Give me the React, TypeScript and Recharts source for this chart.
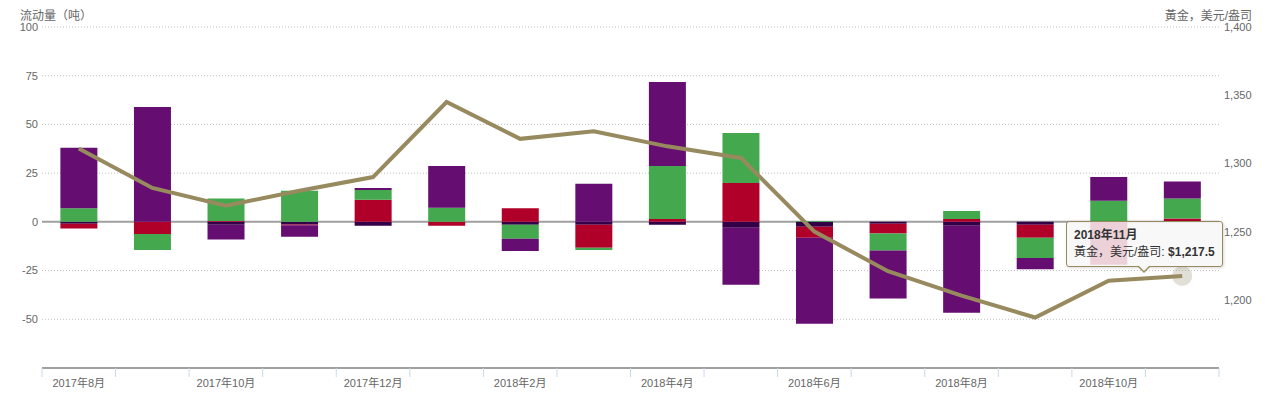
import React from 'react';
import {
  ComposedChart, Bar, Line, XAxis, YAxis, CartesianGrid, Tooltip
} from 'recharts';

const months = [
  '2017年8月', '2017年9月', '2017年10月', '2017年11月', '2017年12月', '2018年1月',
  '2018年2月', '2018年3月', '2018年4月', '2018年5月', '2018年6月', '2018年7月',
  '2018年8月', '2018年9月', '2018年10月', '2018年11月'
];

// 流动量（吨）by region
const northAmerica = [31, 59, -7.5, -5.9, 1, 21.5, -6.2, 19.5, 43.1, -29.3, -44.1, -24.6, -44.7, -5.8, 12.2, 8.7];
const europe = [7, -8.3, 11.5, 16, 5.1, 7.2, -7.2, -1.1, 27.2, 25.6, 0.5, -8.7, 4.1, -10.3, 10.8, 10.3];
const asia = [-2.4, -6.2, 0.5, -0.4, 11.3, -2, 7, -11.8, 1.5, 20, -5.7, -5, 1.5, -6.7, -22, 1.7];
const other = [-1, 0, -1.5, -1.4, -2, 0, -1.5, -1.5, -1.5, -3, -2.5, -1, -2, -1.5, 0, 0];

// 黃金，美元/盎司
const gold = [1311, 1282, 1269, 1280, 1290, 1345, 1318, 1323.5, 1312.5, 1304, 1250, 1221, 1203, 1187, 1214, 1217.5];

const leftTicks = [-50, -25, 0, 25, 50, 75, 100];
const rightTicks = [1200, 1250, 1300, 1350, 1400];

const data = months.map((m, i) => ({
  month: m,
  other: other[i],
  asia: asia[i],
  europe: europe[i],
  northAmerica: northAmerica[i],
  gold: gold[i],
}));

const WIDTH = 1277;
const HEIGHT = 399;
const LEFT_W = 42;
const RIGHT_W = 58;
const TOP = 27;
const X_H = 31;
const BAND = (WIDTH - LEFT_W - RIGHT_W) / months.length;

const FONT = '"Liberation Sans", Arial, "Noto Sans CJK SC", sans-serif';
const TEXT = '#666666';
const LINE_COLOR = '#968a5e';

const MonthTick = (props: any) => {
  const { x, y, payload, index } = props;
  const i = payload?.index ?? index;
  return (
    <g>
      <line x1={x - BAND / 2} x2={x - BAND / 2} y1={y} y2={y + 9} stroke="#ccd6eb" />
      {i === months.length - 1 && (
        <line x1={x + BAND / 2} x2={x + BAND / 2} y1={y} y2={y + 9} stroke="#ccd6eb" />
      )}
      {i % 2 === 0 && (
        <text x={x} y={y + 15} textAnchor="middle" dominantBaseline="central"
          fontSize={11} fill={TEXT} fontFamily={FONT}>
          {payload.value}
        </text>
      )}
    </g>
  );
};

const GoldTooltip = ({ active, payload, label }: any) => {
  if (!active || !payload) return null;
  const p = payload.find((d: any) => d.dataKey === 'gold');
  if (!p) return null;
  return (
    <div style={{
      position: 'relative',
      background: 'rgba(247,247,247,0.85)',
      border: `1px solid ${LINE_COLOR}`,
      borderRadius: 3,
      padding: '5px 7px',
      fontFamily: FONT,
      fontSize: 12,
      lineHeight: '17px',
      color: '#333',
      whiteSpace: 'nowrap',
      boxShadow: '1px 1px 3px rgba(0,0,0,0.15)',
    }}>
      <div style={{ fontWeight: 'bold' }}>{label}</div>
      <div>黃金，美元/盎司: <b>${Number(p.value).toLocaleString('en-US', { minimumFractionDigits: 1 })}</b></div>
      <div style={{
        position: 'absolute', left: '50%', bottom: -7, marginLeft: -7,
        width: 0, height: 0, borderLeft: '7px solid transparent', borderRight: '7px solid transparent',
        borderTop: `7px solid ${LINE_COLOR}`,
      }} />
      <div style={{
        position: 'absolute', left: '50%', bottom: -5, marginLeft: -6,
        width: 0, height: 0, borderLeft: '6px solid transparent', borderRight: '6px solid transparent',
        borderTop: '6px solid #f7f7f7',
      }} />
    </div>
  );
};

export default function App() {
  return (
    <div style={{ position: 'absolute', left: 0, top: 0, width: WIDTH, height: HEIGHT, background: '#fff' }}>
      <div style={{ position: 'absolute', left: 20, top: 6, fontSize: 12, color: TEXT, fontFamily: FONT }}>
        流动量（吨）
      </div>
      <div style={{ position: 'absolute', right: 25, top: 6, fontSize: 12, color: TEXT, fontFamily: FONT }}>
        黃金，美元/盎司
      </div>
      <ComposedChart
        width={WIDTH}
        height={HEIGHT}
        data={data}
        stackOffset="sign"
        barCategoryGap="25%"
        margin={{ top: TOP, right: 0, bottom: 0, left: 0 }}
      >
        <CartesianGrid yAxisId="left" vertical={false} stroke="#c0c0c0" strokeDasharray="1 2" />
        {/* solid zero line, kept behind the bars */}
        <CartesianGrid yAxisId="left" vertical={false} horizontalValues={[0]} stroke="#a0a0a0" strokeWidth={2} />
        <XAxis
          dataKey="month"
          interval={0}
          height={X_H}
          tick={<MonthTick />}
          tickLine={false}
          tickSize={0}
          tickMargin={0}
          axisLine={{ stroke: '#a0a0a0', strokeWidth: 2 }}
        />
        <YAxis
          yAxisId="left"
          width={LEFT_W}
          domain={[-75, 100]}
          ticks={[-75, ...leftTicks]}
          tickFormatter={(v: number) => (v === -75 ? '' : String(v))}
          tick={{ fontSize: 11, fill: TEXT, fontFamily: FONT }}
          tickLine={false}
          tickSize={0}
          tickMargin={4}
          axisLine={false}
        />
        <YAxis
          yAxisId="right"
          orientation="right"
          width={RIGHT_W}
          domain={[1150, 1400]}
          ticks={rightTicks}
          tickFormatter={(v: number) => v.toLocaleString('en-US')}
          tick={{ fontSize: 11, fill: TEXT, fontFamily: FONT, textAnchor: 'start' }}
          tickLine={false}
          tickSize={0}
          tickMargin={5}
          axisLine={false}
        />
        <Bar yAxisId="left" dataKey="other" name="其他" stackId="flow" fill="#330048" isAnimationActive={false} />
        <Bar yAxisId="left" dataKey="asia" name="亚洲" stackId="flow" fill="#b0002a" isAnimationActive={false} />
        <Bar yAxisId="left" dataKey="europe" name="欧洲" stackId="flow" fill="#44a94e" isAnimationActive={false} />
        <Bar yAxisId="left" dataKey="northAmerica" name="北美" stackId="flow" fill="#650d71" isAnimationActive={false} />
        <Line
          yAxisId="right"
          dataKey="gold"
          name="黃金，美元/盎司"
          type="linear"
          stroke={LINE_COLOR}
          strokeWidth={4}
          dot={false}
          activeDot={{ r: 10, fill: 'rgba(160,150,120,0.3)', stroke: 'none' }}
          isAnimationActive={false}
        />
        <Tooltip
          content={<GoldTooltip />}
          defaultIndex={15}
          active={true}
          cursor={false}
          position={{ x: 1066, y: 221 }}
          isAnimationActive={false}
          wrapperStyle={{ outline: 'none' }}
        />
      </ComposedChart>
    </div>
  );
}
